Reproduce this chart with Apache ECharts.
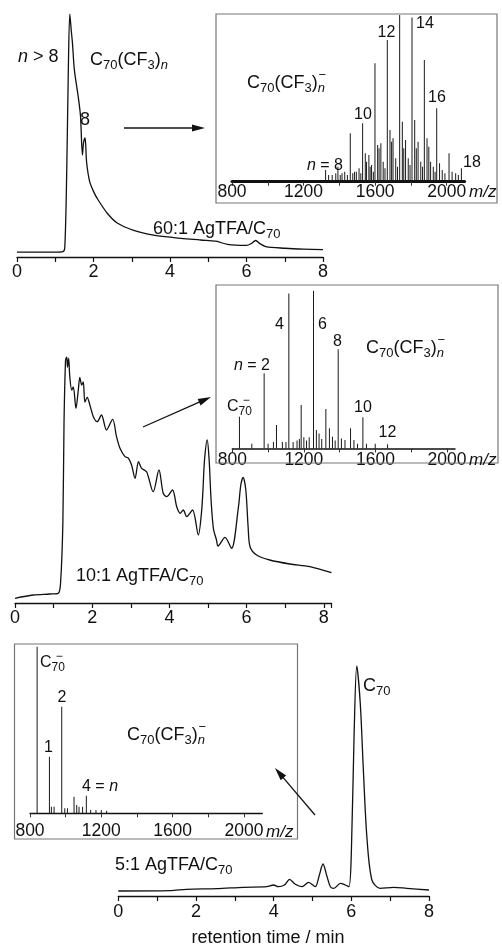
<!DOCTYPE html>
<html><head><meta charset="utf-8">
<script src="https://cdn.jsdelivr.net/npm/echarts@6/dist/echarts.min.js"></script>
<style>html,body{margin:0;padding:0;background:#fff}#c{width:502px;height:947px}</style>
</head><body><div id="c"></div>
<script>
// ---------- DATA ----------
// Chromatogram 60:1 AgTFA/C70 (retention time, min ; signal, % of max)
var chrom60Time = [0,0.5,1,1.2,1.25,1.3,1.34,1.38,1.42,1.45,1.5,1.6,1.66,1.71,1.74,1.78,1.82,1.9,2.0,2.1,2.36,2.62,3.05,3.57,4.1,4.8,5.2,5.5,6.0,6.12,6.24,6.35,6.5,7,7.5,8];
var chrom60Signal = [2,2,2,2.2,4,35,75,100,93,88,77,66,58,42,47,49,39,31,27,24,18,14,11,9,8,7,6.5,5.2,4.8,5.5,6.8,5.5,4.3,3.6,3.2,3];

// Chromatogram 10:1 AgTFA/C70 (arbitrary units)
var chrom10Time = [0,0.47,0.9,1.12,1.18,1.24,1.27,1.31,1.34,1.36,1.39,1.42,1.47,1.51,1.58,1.64,1.68,1.73,1.77,1.81,1.87,1.94,2.03,2.13,2.24,2.37,2.53,2.63,2.72,2.85,2.94,3.02,3.11,3.2,3.28,3.41,3.58,3.73,3.84,3.93,4.08,4.19,4.28,4.36,4.45,4.6,4.75,4.83,4.87,4.91,4.98,5.03,5.08,5.14,5.22,5.26,5.44,5.61,5.79,5.85,5.91,5.98,6.04,6.09,6.26,6.6,7.12,7.64,8.2];
var chrom10Signal = [4.7,8,9,9.7,19.7,79.7,180,243,246,236,244.7,226,213,216,194.7,213,225.7,218,221,201,205.7,198,186.3,181.3,188,173,183.7,166.3,154.7,146.3,144.7,138,124.7,141.3,134.7,131.3,111.3,133,109.7,106.3,113,96.3,89.7,93,86.3,93,68,89.7,113,143,163,143,103,74.7,63,57,65.7,54.7,96.3,118,125.7,113,76,56.3,48,43,39,36.3,30.3];

// Chromatogram 5:1 AgTFA/C70 (arbitrary units)
var chrom5Time = [0,1.33,1.76,2.53,3.22,3.82,4.0,4.12,4.28,4.41,4.55,4.73,4.9,5.07,5.17,5.27,5.37,5.46,5.55,5.72,5.85,5.94,6.0,6.07,6.14,6.23,6.31,6.4,6.53,6.74,7.09,7.43,8.0];
var chrom5Signal = [5,5.3,6.7,7.3,8.7,9.3,11,9.3,11,16.7,12,9.3,13.7,9.3,20,32,20,9.3,7.7,12.7,11,9.3,42.7,159,230,192.7,126,59.3,16,7.7,8.7,7.7,6];

// Mass spectra (m/z ; relative intensity %)
var ms60Mz  = [1323,1340,1360,1380,1392,1405,1415,1430,1445,1461,1475,1485,1495,1510,1520,1530,1545,1552,1565,1572,1580,1590,1599,1614,1622,1632,1645,1655,1668,1683,1692,1700,1715,1725,1737,1752,1760,1770,1785,1795,1806,1821,1830,1840,1855,1865,1875,1890,1900,1910,1925,1935,1944,1960,1975,1990,2013,2030,2050,2065,2082];
var ms60Int = [7,4,4,5,9,4,5,6,4,29,5,6,6,8,5,35,17,12,16,9,10,6,71,22,20,23,12,8,85,31,24,26,14,9,100,36,20,25,14,10,98.5,37,20,24,12,9,73,26,21,12,9,6,44,11,7,5,17,6,5,4,8];

var ms10Mz  = [840,909,978,1000,1030,1047,1080,1100,1116,1140,1162,1175,1185,1200,1215,1230,1254,1270,1285,1300,1323,1343,1360,1375,1392,1410,1430,1461,1480,1500,1530,1550,1599,1668];
var ms10Int = [20,3,47.6,3,4,14.8,4,4,98.3,4,5,6,27.5,7,5,7,100,11.6,9.5,6,25,12.7,7.4,5,62.8,6.3,5.3,12.7,5.3,3,19.7,3,3,2.7];

var ms5Mz  = [840,909,920,935,978,995,1010,1047,1062,1075,1095,1116,1140,1170,1200,1230];
var ms5Int = [100,34,4,4,64,3,3,10,5,4,4,10.6,2,2,2,1.5];

var rtTicks = [0,2,4,6,8];
var mzTicks = [800,1200,1600,2000];

// ---------- HELPERS ----------
var FONT = '"Liberation Sans", Arial, sans-serif';
var INK = '#111';
function zip(a,b){ return a.map(function(v,i){ return [v,b[i]]; }); }
var mctx = document.createElement('canvas').getContext('2d');
function tw(t, size, it){ mctx.font = (it?'italic ':'') + size + 'px "Liberation Sans"'; return mctx.measureText(t).width; }

// segments: [text, kind] kind: n normal, i italic, s subscript, si italic subscript, m stacked minus over previous
function label(x, y, segs, size, align){
  var sub = Math.round(size*0.74);
  var items = [], cx = 0, prev = null;
  segs.forEach(function(sg){
    var t = sg[0], k = sg[1];
    if (k === 'm'){
      items.push({t:'\u2212', x: prev.x + prev.w/2 + 1, y: -size*0.42, size: sub, it:false, al:'center'});
      return;
    }
    var isSub = (k==='s'||k==='si'), it = (k==='i'||k==='si');
    var fs = isSub ? sub : size, w = tw(t, fs, it);
    var o = {t:t, x:cx, y: isSub ? size*0.3 : 0, size:fs, it:it, al:'left', w:w};
    items.push(o); prev = o; cx += w;
  });
  var off = align==='center' ? -cx/2 : 0;
  return items.map(function(o){
    return {type:'text', x: x + o.x + off, y: y + o.y, z: 10,
      style:{text:o.t, fontSize:o.size, fontFamily:FONT, fontStyle:o.it?'italic':'normal', fill:INK, align:o.al, verticalAlign:'middle'}};
  });
}
function arrow(x1,y1,x2,y2){
  var dx=x2-x1, dy=y2-y1, L=Math.sqrt(dx*dx+dy*dy), ux=dx/L, uy=dy/L;
  var hl=13, hw=3.6, bx=x2-ux*hl, by=y2-uy*hl;
  return [
    {type:'line', z:10, shape:{x1:x1,y1:y1,x2:bx+ux*2,y2:by+uy*2}, style:{stroke:INK, lineWidth:1.3}},
    {type:'polygon', z:10, shape:{points:[[x2,y2],[bx-uy*hw,by+ux*hw],[bx+uy*hw,by-ux*hw]]}, style:{fill:INK}}
  ];
}
function box(x,y,w,h){ return {type:'rect', z:5, shape:{x:x,y:y,width:w,height:h}, style:{fill:'none', stroke:'#777', lineWidth:1.2}}; }

function rtAxis(gi, max, margin){
  return {type:'value', gridIndex:gi, min:0, max:max, interval:1,
    axisLine:{show:true, onZero:false, lineStyle:{color:INK, width:1.3}},
    axisTick:{show:true, length:5, lineStyle:{color:INK, width:1.2}},
    axisLabel:{fontSize:18, fontFamily:FONT, color:INK, margin:margin,
      formatter:function(v){ return rtTicks.indexOf(v)>=0 ? String(v) : ''; }},
    splitLine:{show:false}};
}
function mzAxis(gi, max, margin, lw){
  return {type:'value', gridIndex:gi, min:800, max:max, interval:200,
    axisLine:{show:true, onZero:false, lineStyle:{color:INK, width:lw}},
    axisTick:{show:true, length:4, lineStyle:{color:'#333', width:1}},
    axisLabel:{fontSize:17.5, fontFamily:FONT, color:INK, margin:margin, showMaxLabel:false,
      formatter:function(v){ return mzTicks.indexOf(v)>=0 ? String(v) : ''; }},
    splitLine:{show:false}};
}
function yAx(gi, max){ return {type:'value', gridIndex:gi, min:0, max:max, show:false, splitLine:{show:false}}; }
function G(l,t,w,h){ return {left:l, top:t, width:w, height:h, containLabel:false, outerBoundsMode:'none'}; }

// ---------- GRAPHICS (annotations) ----------
var gfx = [];
gfx.push(box(216,14,281,189));
gfx.push(box(216,285,282,178));
gfx.push(box(14.5,644,283,195));
gfx = gfx.concat(arrow(124,128,205,128), arrow(143,427,211,397), arrow(315,815,275,768));
// chart 1
gfx = gfx.concat(label(18,57,[['n','i'],[' > 8','n']],18,'left'));
gfx = gfx.concat(label(90,60,[['C','n'],['70','s'],['(CF','n'],['3','s'],[')','n'],['n','si']],18,'left'));
gfx = gfx.concat(label(85,120,[['8','n']],18,'center'));
gfx = gfx.concat(label(153,229,[['60:1 AgTFA/C','n'],['70','s']],18,'left'));
// inset 1
gfx = gfx.concat(label(247,83,[['C','n'],['70','s'],['(CF','n'],['3','s'],[')','n'],['n','si'],['','m']],18,'left'));
gfx = gfx.concat(label(386.5,33,[['12','n']],16,'center'));
gfx = gfx.concat(label(425,24,[['14','n']],16,'center'));
gfx = gfx.concat(label(363,115,[['10','n']],16,'center'));
gfx = gfx.concat(label(437,98,[['16','n']],16,'center'));
gfx = gfx.concat(label(472,163,[['18','n']],16,'center'));
gfx = gfx.concat(label(325,166,[['n','i'],[' = 8','n']],16,'center'));
gfx = gfx.concat(label(469,192,[['m/z','i']],17,'left'));
// chart 2 + inset 2
gfx = gfx.concat(label(76,576,[['10:1 AgTFA/C','n'],['70','s']],18,'left'));
gfx = gfx.concat(label(279.5,325,[['4','n']],16,'center'));
gfx = gfx.concat(label(322.5,325,[['6','n']],16,'center'));
gfx = gfx.concat(label(337.5,342,[['8','n']],16,'center'));
gfx = gfx.concat(label(252,366,[['n','i'],[' = 2','n']],16,'center'));
gfx = gfx.concat(label(227,407,[['C','n'],['70','s'],['','m']],16,'left'));
gfx = gfx.concat(label(363,408,[['10','n']],16,'center'));
gfx = gfx.concat(label(387.5,433,[['12','n']],16,'center'));
gfx = gfx.concat(label(366,348,[['C','n'],['70','s'],['(CF','n'],['3','s'],[')','n'],['n','si'],['','m']],18,'left'));
gfx = gfx.concat(label(469,460,[['m/z','i']],17,'left'));
// chart 3 + inset 3
gfx = gfx.concat(label(363,686,[['C','n'],['70','s']],18,'left'));
gfx = gfx.concat(label(115,865,[['5:1 AgTFA/C','n'],['70','s']],18,'left'));
gfx = gfx.concat(label(268,938,[['retention time / min','n']],18,'center'));
gfx = gfx.concat(label(40,663,[['C','n'],['70','s'],['','m']],16,'left'));
gfx = gfx.concat(label(48.5,748,[['1','n']],16,'center'));
gfx = gfx.concat(label(62,698,[['2','n']],16,'center'));
gfx = gfx.concat(label(82,787,[['4 = ','n'],['n','i']],16,'left'));
gfx = gfx.concat(label(127,735,[['C','n'],['70','s'],['(CF','n'],['3','s'],[')','n'],['n','si'],['','m']],18,'left'));
gfx = gfx.concat(label(266,832,[['m/z','i']],17,'left'));

// ---------- OPTION ----------
var lineS = function(xi, data){ return {type:'line', xAxisIndex:xi, yAxisIndex:xi, data:data, showSymbol:false, smooth:0.3,
  lineStyle:{color:INK, width:1.3}, silent:true}; };
var barS = function(xi, data){ return {type:'bar', xAxisIndex:xi, yAxisIndex:xi, data:data, barWidth:1,
  itemStyle:{color:'#1a1a1a'}, silent:true}; };

var option = {
  animation:false,
  backgroundColor:'#fff',
  grid:[G(17,14,306,243), G(15,357,316.5,246), G(118.3,666,310.7,230),
        G(232,15,232.6,166.7), G(232.3,290.7,222.7,157.7), G(30,646.7,232.3,166.6)],
  xAxis:[rtAxis(0,8,6), rtAxis(1,8.2,6), rtAxis(2,8,7),
         mzAxis(3,2100,1,3), mzAxis(4,2045,2.5,1.5), mzAxis(5,2103,9,1.3)],
  yAxis:[yAx(0,100), yAx(1,246), yAx(2,230), yAx(3,100), yAx(4,100), yAx(5,100)],
  series:[
    lineS(0, zip(chrom60Time, chrom60Signal)),
    lineS(1, zip(chrom10Time, chrom10Signal)),
    lineS(2, zip(chrom5Time, chrom5Signal)),
    barS(3, zip(ms60Mz, ms60Int)),
    barS(4, zip(ms10Mz, ms10Int)),
    barS(5, zip(ms5Mz, ms5Int))
  ],
  graphic:{elements:gfx}
};
var chart = echarts.init(document.getElementById('c'), null, {renderer:'canvas'});
chart.setOption(option);
</script></body></html>
